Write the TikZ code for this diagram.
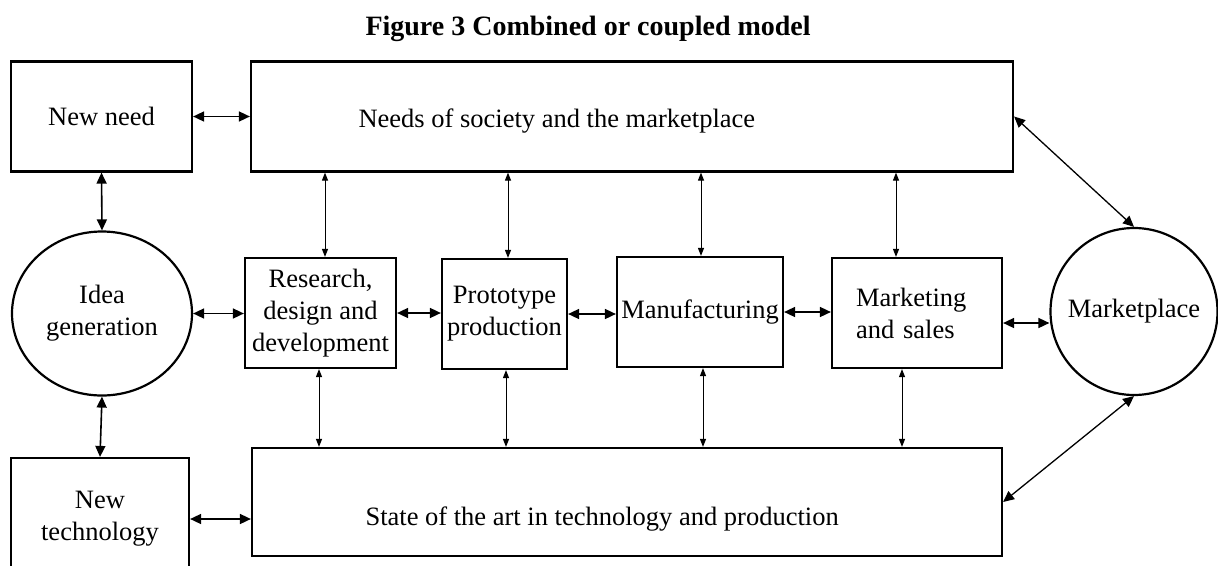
\documentclass[tikz,border=0pt]{standalone}
\usepackage{fontspec}
\setmainfont{Liberation Serif}
\usetikzlibrary{shapes.geometric,arrows.meta}
\begin{document}
\begin{tikzpicture}[x=1pt,y=-1pt,
                        box/.style={shape=rectangle,draw,line width=2.2pt,inner sep=2pt,align=center},
                        oval/.style={shape=ellipse,draw,line width=2.2pt,inner sep=0pt,align=center},
                        link/.style={{Triangle[length=11pt,width=10pt]}-{Triangle[length=11pt,width=10pt]},line width=1.6pt},
                        tlink/.style={{Triangle[length=8pt,width=6pt]}-{Triangle[length=8pt,width=6pt]},line width=1pt},
                        font=\fontsize{26.5}{32}\selectfont]
                        \useasboundingbox (0,0) rectangle (1218,565);
                        \node[anchor=base west,font=\fontsize{28}{32}\selectfont\bfseries] at (362,35) (title) {Figure 3 Combined or coupled model};
                        \node[box,minimum width=181pt,minimum height=110pt] at (101.5,116.5) (newneed) {New need};
                        \node[box,minimum width=762pt,minimum height=110pt] at (632,116.5) (needs) {};
                        \node[anchor=base west] at (355,127) (needstxt) {Needs of society and the marketplace};
                        \node[oval,minimum width=180pt,minimum height=164pt] at (102,313.5) (idea) {Idea\\generation};
                        \node[box,minimum width=151pt,minimum height=110pt] at (320.5,313) (rd) {Research,\\design and\\development};
                        \node[box,minimum width=125pt,minimum height=110pt] at (504.5,314) (proto) {Prototype\\production};
                        \node[box,minimum width=166pt,minimum height=110pt] at (700,312) (manuf) {Manufacturing};
                        \node[box,align=left,text width=122pt,minimum width=170pt,minimum height=110pt] at (917,313) (mark) {Marketing\\and sales};
                        \node[shape=circle,draw,line width=2.2pt,inner sep=0pt,minimum size=167pt] at (1134,311.5) (market) {Marketplace};
                        \node[box,minimum width=178pt,minimum height=122pt] at (100,519) (newtech) {New\\technology};
                        \node[box,minimum width=750pt,minimum height=108pt] at (627,502) (state) {};
                        \node[anchor=base west] at (362,525) (statetxt) {State of the art in technology and production};
                        \draw[link] (newneed.east) -- (needs.west);
                        \draw[link] (newneed.south) -- (idea.north);
                        \draw[link] (idea.south) -- (newtech.north);
                        \draw[link] (idea.east) -- (idea.east -| rd.west);
                        \draw[link] (rd.east) -- (rd.east -| proto.west);
                        \draw[link] (proto.east) -- (proto.east -| manuf.west);
                        \draw[link] (manuf.east) -- (manuf.east -| mark.west);
                        \draw[link] ([yshift=-10pt]mark.east) -- ([yshift=-10pt]mark.east -| market.west);
                        \draw[link] (newtech.east) -- (newtech.east -| state.west);
                        \draw[link,line width=1.3pt] (needs.east) -- (market.north);
                        \draw[link,line width=1.3pt] (state.east) -- (market.south);
                        \foreach \n/\a/\b in {rd/4.5/-1.5,proto/3.5/1.5,manuf/1/3,mark/-21/-15}{
                            \draw[tlink] ([xshift=\a pt]\n.north) -- ([xshift=\a pt]\n.north |- needs.south);
                            \draw[tlink] ([xshift=\b pt]\n.south) -- ([xshift=\b pt]\n.south |- state.north);
                        }
                \end{tikzpicture}
\end{document}
